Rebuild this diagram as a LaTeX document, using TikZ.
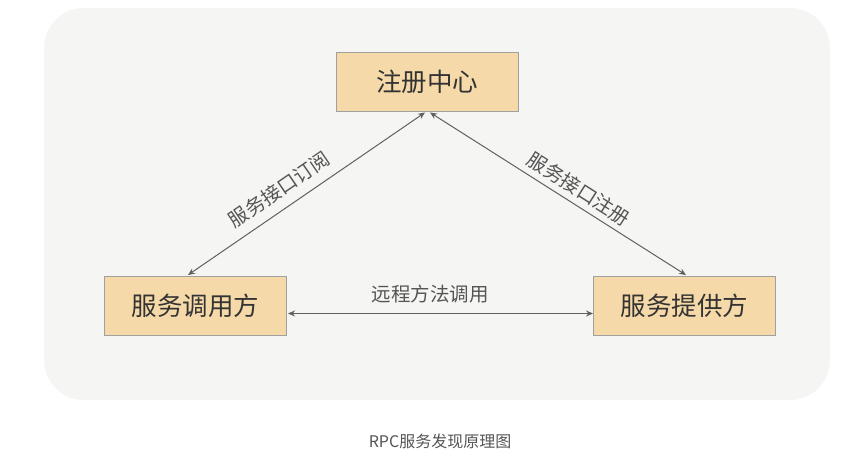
\documentclass[tikz,border=0pt]{standalone}
\usepackage{fontspec}
\setmainfont{Noto Sans CJK SC}
\usetikzlibrary{arrows.meta}
\definecolor{bgpanel}{HTML}{F5F5F4}
\definecolor{boxfill}{HTML}{F5D9A8}
\definecolor{boxline}{HTML}{A0A0A0}
\definecolor{txtdark}{HTML}{333333}
\definecolor{txtmid}{HTML}{555555}
\definecolor{arrowcol}{HTML}{606060}
\begin{document}
\begin{tikzpicture}[x=1pt,y=-1pt,
  boxnode/.style={draw=boxline,line width=1pt,fill=boxfill,minimum width=182pt,minimum height=59pt,inner sep=0pt,font=\fontsize{25.5}{28}\selectfont,text=txtdark},
  link/.style={draw=arrowcol,line width=1pt,{Stealth[length=7pt,width=6pt]}-{Stealth[length=7pt,width=6pt]}},
  edgelabel/.style={font=\fontsize{19.5}{22}\selectfont,text=txtmid,inner sep=1pt}]
\useasboundingbox (0,0) rectangle (862,473);
\fill[white] (0,0) rectangle (862,473);
\fill[bgpanel,rounded corners=40pt] (44,8) rectangle (830,400);
\node[boxnode] (reg) at (427,82) {注册中心};
\node[boxnode] (con) at (195.5,305.5) {服务调用方};
\node[boxnode] (pro) at (684.5,305.5) {服务提供方};
\coordinate (regL) at (425,112.5);
\coordinate (regR) at (430,112.5);
\coordinate (conT) at (188,275);
\coordinate (proT) at (686,275);
\coordinate (conE) at (288,313.5);
\coordinate (proW) at (593,313.5);
\draw[link] (conT) -- (regL);
\draw[link] (proT) -- (regR);
\draw[link] (conE) -- (proW);
\node[edgelabel,rotate=34.4] (subl) at (279,189) {服务接口订阅};
\node[edgelabel,rotate=-32.5] (regl) at (579,189) {服务接口注册};
\node[edgelabel] (rpcl) at (430,294) {远程方法调用};
\node[font=\fontsize{16}{19}\selectfont,text=txtmid] (cap) at (440,441) {RPC服务发现原理图};
\end{tikzpicture}
\end{document}
